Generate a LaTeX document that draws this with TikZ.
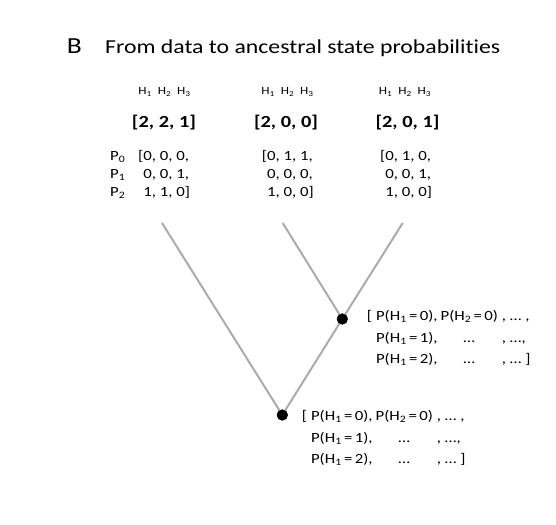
\documentclass[tikz,border=0pt]{standalone}
\usepackage{fontspec}
\setmainfont{Carlito}[FakeStretch=1.2, Ligatures=NoCommon]
\usepackage{tikz}
\definecolor{branchgray}{HTML}{ABABAB}
\tikzset{dot/.style = {circle, fill=black, inner sep=0pt, minimum size=11pt},
         branch/.style = {draw=branchgray, line width=2pt},
         hlabel/.style = {anchor=base, inner sep=0pt, font=\fontsize{11}{12}\selectfont},
         obs/.style = {anchor=base, inner sep=0pt, font=\bfseries\fontsize{17}{19}\selectfont},
         mat/.style = {anchor=west, inner sep=0pt, font=\fontsize{14}{18}\selectfont},
         post/.style = {anchor=west, inner sep=0pt, font=\fontsize{14}{21.5}\selectfont}}
\newcommand{\Hsub}[1]{H\textsubscript{#1}}
\newcommand{\Prob}[2]{P(H\textsubscript{#1}\,=\,#2)}

\begin{document}
\begin{tikzpicture}[x=1pt, y=-1pt]
        \useasboundingbox (0,0) rectangle (556,524);

        % title
        \node [anchor=base west, inner sep=0pt, font=\fontsize{23}{26}\selectfont] (panel) at (66.7,53.3) {B};
        \node [anchor=base west, inner sep=0pt, font=\fontsize{19.8}{24}\selectfont] (title) at (105,53.3) {From data to ancestral state probabilities};

        % tips
        \node [hlabel] (hA) at (164.5,95) {\Hsub{1}\hspace{6pt}\Hsub{2}\hspace{6pt}\Hsub{3}};
        \node [hlabel] (hB) at (287.5,95) {\Hsub{1}\hspace{6pt}\Hsub{2}\hspace{6pt}\Hsub{3}};
        \node [hlabel] (hC) at (405,95)   {\Hsub{1}\hspace{6pt}\Hsub{2}\hspace{6pt}\Hsub{3}};

        \node [obs] (obsA) at (164,128)   {[2, 2, 1]};
        \node [obs] (obsB) at (286,128)   {[2, 0, 0]};
        \node [obs] (obsC) at (407.5,128) {[2, 0, 1]};

        \node [mat] (plabels) at (110,175) {\begin{tabular}{@{}l@{}}P\textsubscript{0}\\ P\textsubscript{1}\\ P\textsubscript{2}\end{tabular}};
        \node [mat] (matA) at (138,175)   {\begin{tabular}{@{}l@{}}[0, 0, 0,\\ \phantom{[}0, 0, 1,\\ \phantom{[}1, 1, 0]\end{tabular}};
        \node [mat] (matB) at (261.7,175) {\begin{tabular}{@{}l@{}}[0, 1, 1,\\ \phantom{[}0, 0, 0,\\ \phantom{[}1, 0, 0]\end{tabular}};
        \node [mat] (matC) at (380,175)   {\begin{tabular}{@{}l@{}}[0, 1, 0,\\ \phantom{[}0, 0, 1,\\ \phantom{[}1, 0, 0]\end{tabular}};

        % tree
        \coordinate (leafA) at (162,223);
        \coordinate (leafB) at (282.7,223);
        \coordinate (leafC) at (402.7,223);

        \node [dot] (inner) at (342.3,319) {};
        \node [dot] (root)  at (282.3,415) {};

        \draw [branch] (leafA) -- (root.center);
        \draw [branch] (leafB) -- (inner.center);
        \draw [branch] (leafC) -- (inner.center) -- (root.center);

        \node [dot] at (inner) {};
        \node [dot] at (root) {};

        % ancestral states
        \node [post] (probInner) at (366.7,337.7) {\begin{tabular}{@{}l@{\hspace{4pt}}l@{\hspace{3pt}}c@{\hspace{4pt}}l@{}}
            [ & \Prob{1}{0}, & \Prob{2}{0} & , \dots\ , \\
              & \Prob{1}{1}, & \dots       & , \dots, \\
              & \Prob{1}{2}, & \dots       & , \dots\ ]
        \end{tabular}};
        \node [post] (probRoot) at (301.7,438) {\begin{tabular}{@{}l@{\hspace{4pt}}l@{\hspace{3pt}}c@{\hspace{4pt}}l@{}}
            [ & \Prob{1}{0}, & \Prob{2}{0} & , \dots\ , \\
              & \Prob{1}{1}, & \dots       & , \dots, \\
              & \Prob{1}{2}, & \dots       & , \dots\ ]
        \end{tabular}};
    \end{tikzpicture}
\end{document}
